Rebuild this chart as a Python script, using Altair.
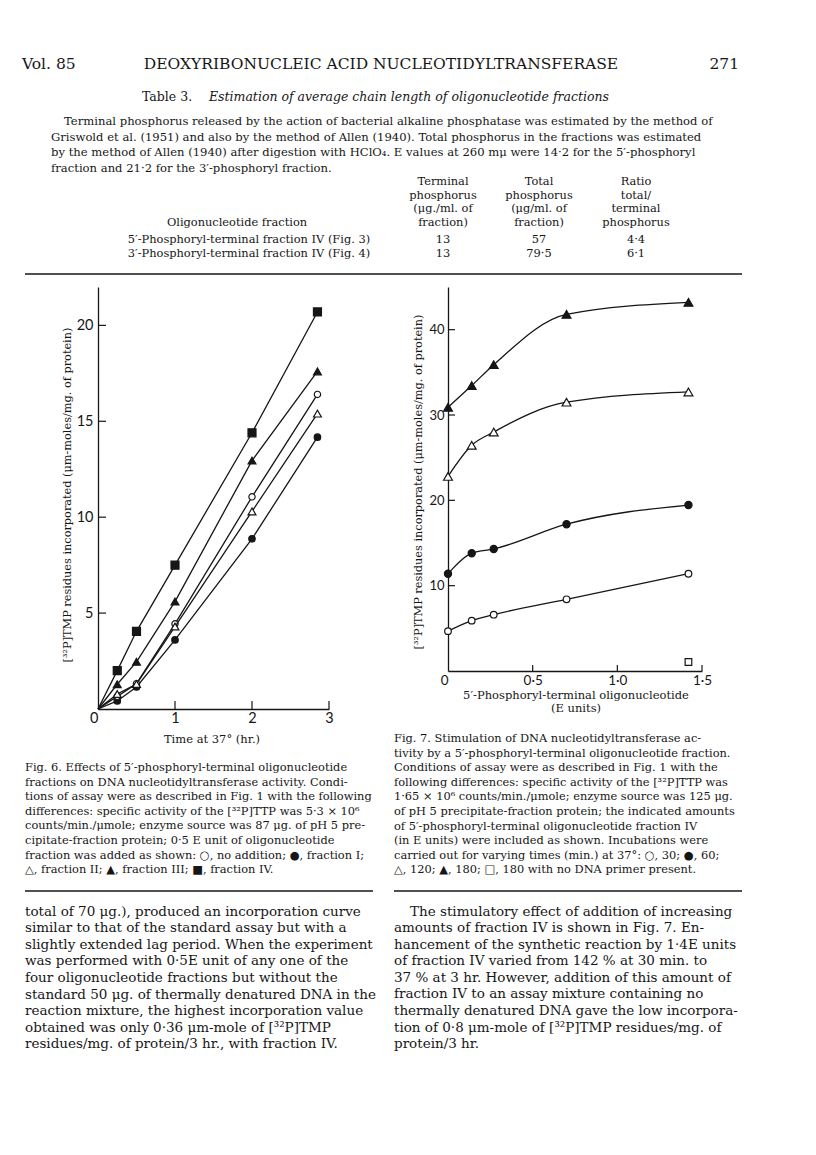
import altair as alt
import pandas as pd

# ---------------- data ----------------
# Fig. 6: time at 37 deg (hr.) vs [32P]TMP incorporated
fig6_time = [0.25, 0.5, 1.0, 2.0, 2.85]
fig6_no_addition = [0.66, 1.32, 4.44, 11.06, 16.4]
fig6_fraction_I = [0.42, 1.15, 3.6, 8.87, 14.17]
fig6_fraction_II = [0.78, 1.30, 4.3, 10.3, 15.4]
fig6_fraction_III = [1.29, 2.46, 5.6, 12.95, 17.6]
fig6_fraction_IV = [2.0, 4.05, 7.5, 14.4, 20.7]
fig6_x_labels = [0, 1, 2, 3]
fig6_x_ticks = [1, 2, 3]
fig6_y_ticks = [5, 10, 15, 20]

# Fig. 7: oligonucleotide (E units) vs [32P]TMP incorporated
fig7_units = [0.0, 0.14, 0.27, 0.70, 1.42]
fig7_30min = [4.67, 5.9, 6.6, 8.4, 11.4]
fig7_60min = [11.4, 13.8, 14.3, 17.2, 19.45]
fig7_120min = [22.8, 26.45, 28.0, 31.5, 32.7]
fig7_180min = [30.9, 33.45, 35.9, 41.8, 43.2]
fig7_noprimer_units = [1.42]
fig7_noprimer = [1.05]
fig7_x_labels = [0, 0.5, 1.0, 1.5]
fig7_x_ticks = [0.5, 1.0, 1.5]
fig7_y_ticks = [10, 20, 30, 40]

# ---------------- page text ----------------
header_left = "Vol. 85"
header_mid = "DEOXYRIBONUCLEIC ACID NUCLEOTIDYLTRANSFERASE"
header_right = "271"
table_label = "Table 3."
table_title = "Estimation of average chain length of oligonucleotide fractions"
para_first = "Terminal phosphorus released by the action of bacterial alkaline phosphatase was estimated by the method of"
para_rest = [
    "Griswold et al. (1951) and also by the method of Allen (1940). Total phosphorus in the fractions was estimated",
    "by the method of Allen (1940) after digestion with HClO\u2084.  E values at 260 m\u03bc were 14\u00b72 for the 5\u2032-phosphoryl",
    "fraction and 21\u00b72 for the 3\u2032-phosphoryl fraction.",
]
col1_head = ["Terminal", "phosphorus", "(\u03bcg./ml. of", "fraction)"]
col2_head = ["Total", "phosphorus", "(\u03bcg/ml. of", "fraction)"]
col3_head = ["Ratio", "total/", "terminal", "phosphorus"]
col0_head = "Oligonucleotide fraction"
row_names = ["5\u2032-Phosphoryl-terminal fraction IV (Fig. 3)",
             "3\u2032-Phosphoryl-terminal fraction IV (Fig. 4)"]
row_terminal = ["13", "13"]
row_total = ["57", "79\u00b75"]
row_ratio = ["4\u00b74", "6\u00b71"]

fig6_ytitle = "[\u00b3\u00b2P]TMP residues incorporated (\u03bcm-moles/mg. of protein)"
fig6_xtitle = "Time at 37\u00b0 (hr.)"
fig7_xtitle = ["5\u2032-Phosphoryl-terminal oligonucleotide", "(E units)"]

fig6_caption = [
    "Fig. 6. Effects of 5\u2032-phosphoryl-terminal oligonucleotide",
    "fractions on DNA nucleotidyltransferase activity. Condi-",
    "tions of assay were as described in Fig. 1 with the following",
    "differences: specific activity of the [\u00b3\u00b2P]TTP was 5\u00b73 \u00d7 10\u2076",
    "counts/min./\u03bcmole; enzyme source was 87 \u03bcg. of pH 5 pre-",
    "cipitate-fraction protein; 0\u00b75 E unit of oligonucleotide",
    "fraction was added as shown: \u25cb, no addition; \u25cf, fraction I;",
    "\u25b3, fraction II; \u25b2, fraction III; \u25a0, fraction IV.",
]
fig7_caption = [
    "Fig. 7. Stimulation of DNA nucleotidyltransferase ac-",
    "tivity by a 5\u2032-phosphoryl-terminal oligonucleotide fraction.",
    "Conditions of assay were as described in Fig. 1 with the",
    "following differences: specific activity of the [\u00b3\u00b2P]TTP was",
    "1\u00b765 \u00d7 10\u2076 counts/min./\u03bcmole; enzyme source was 125 \u03bcg.",
    "of pH 5 precipitate-fraction protein; the indicated amounts",
    "of 5\u2032-phosphoryl-terminal oligonucleotide fraction IV",
    "(in E units) were included as shown. Incubations were",
    "carried out for varying times (min.) at 37\u00b0: \u25cb, 30; \u25cf, 60;",
    "\u25b3, 120; \u25b2, 180; \u25a1, 180 with no DNA primer present.",
]
body_left = [
    "total of 70 \u03bcg.), produced an incorporation curve",
    "similar to that of the standard assay but with a",
    "slightly extended lag period. When the experiment",
    "was performed with 0\u00b75E unit of any one of the",
    "four oligonucleotide fractions but without the",
    "standard 50 \u03bcg. of thermally denatured DNA in the",
    "reaction mixture, the highest incorporation value",
    "obtained was only 0\u00b736 \u03bcm-mole of [\u00b3\u00b2P]TMP",
    "residues/mg. of protein/3 hr., with fraction IV.",
]
body_right_first = "The stimulatory effect of addition of increasing"
body_right_rest = [
    "amounts of fraction IV is shown in Fig. 7. En-",
    "hancement of the synthetic reaction by 1\u00b74E units",
    "of fraction IV varied from 142 % at 30 min. to",
    "37 % at 3 hr. However, addition of this amount of",
    "fraction IV to an assay mixture containing no",
    "thermally denatured DNA gave the low incorpora-",
    "tion of 0\u00b78 \u03bcm-mole of [\u00b3\u00b2P]TMP residues/mg. of",
    "protein/3 hr.",
]

# ---------------- style ----------------
INK = "#161616"
SERIF = "DejaVu Serif"
SANS = "Lato"
W6, H6 = 231, 422
W7, H7 = 254, 384


def txt(lines, x, y, size=11.3, align="left", lh=None, style="normal", angle=0, font=SERIF):
    s = "\n".join(lines) if isinstance(lines, list) else lines
    mk = dict(font=font, fontSize=size, align=align, baseline="alphabetic", color=INK,
              lineBreak="\n", fontStyle=style)
    if lh:
        mk["lineHeight"] = lh
    if angle:
        mk["angle"] = angle
        mk["baseline"] = "middle"
    return alt.Chart(pd.DataFrame({"s": [s]})).mark_text(**mk).encode(
        x=alt.value(x), y=alt.value(y), text="s:N")


def hrule(x1, x2, y, w=1.6):
    return alt.Chart(pd.DataFrame({"s": [0]})).mark_rule(color=INK, strokeWidth=w).encode(
        x=alt.value(x1), x2=alt.value(x2), y=alt.value(y))


def xaxis(values, expr, size):
    return alt.Axis(values=values, ticks=False, grid=False, domainColor=INK, domainWidth=1.3,
                    labelFont=SANS, labelFontSize=size, labelColor=INK, labelPadding=2,
                    labelFlush=False, labelExpr=expr,
                    labelAlign=alt.expr("datum.value == 0 ? 'right' : 'center'"), title=None)


def yaxis(values, size, pad):
    return alt.Axis(values=values, ticks=False, grid=False, domainColor=INK, domainWidth=1.3,
                    labelFont=SANS, labelFontSize=size, labelColor=INK, labelPadding=pad,
                    labelBaseline="middle", title=None)


def series_layers(xs, ys, shape, filled, size, xs_scale, ys_scale, ax_x, ax_y, line_from_origin, interp):
    layers = []
    if line_from_origin is not None:
        lx = ([0.0] + xs) if line_from_origin else xs
        ly = ([0.0] + ys) if line_from_origin else ys
        ldf = pd.DataFrame({"a": lx, "b": ly})
        layers.append(alt.Chart(ldf).mark_line(color=INK, strokeWidth=1.3, interpolate=interp).encode(
            x=alt.X("a:Q", scale=xs_scale, axis=ax_x), y=alt.Y("b:Q", scale=ys_scale, axis=ax_y)))
    pdf = pd.DataFrame({"a": xs, "b": ys})
    layers.append(alt.Chart(pdf).mark_point(shape=shape, filled=True, fill=INK if filled else "white",
                                            stroke=INK, strokeWidth=1.2, size=size, opacity=1).encode(
        x=alt.X("a:Q", scale=xs_scale, axis=ax_x), y=alt.Y("b:Q", scale=ys_scale, axis=ax_y)))
    return layers


# ---------------- Fig. 6 ----------------
x6 = alt.Scale(domain=[0, 3], nice=False, zero=False)
y6 = alt.Scale(domain=[0, 22], nice=False)
ax6x = xaxis(fig6_x_labels, "datum.value == 0 ? '0\u2002' : datum.label", 14.5)
ax6y = yaxis(fig6_y_ticks, 14.5, 5)

fig6_series = [
    (fig6_fraction_I, "circle", True, 42),
    (fig6_no_addition, "circle", False, 40),
    (fig6_fraction_II, "triangle-up", False, 62),
    (fig6_fraction_III, "triangle-up", True, 62),
    (fig6_fraction_IV, "square", True, 64),
]
f6 = []
for vals, shp, fil, sz in fig6_series:
    f6 += series_layers(fig6_time, vals, shp, fil, sz, x6, y6, ax6x, ax6y, True, "linear")

f6.append(alt.Chart(pd.DataFrame({"k": fig6_y_ticks})).mark_rule(color=INK, strokeWidth=1.2).encode(
    y=alt.Y("k:Q", scale=y6, axis=ax6y), x=alt.value(0), x2=alt.value(8)))
f6.append(alt.Chart(pd.DataFrame({"k": fig6_x_ticks})).mark_rule(color=INK, strokeWidth=1.2).encode(
    x=alt.X("k:Q", scale=x6, axis=ax6x), y=alt.value(H6), y2=alt.value(H6 - 8)))

# page anchor (top-left corner of the page area) and left-column text, relative to Fig. 6 plot
f6.append(alt.Chart(pd.DataFrame({"s": [0]})).mark_point(size=1, opacity=0).encode(
    x=alt.value(-89), y=alt.value(-278)))
f6 += [
    txt(header_left, -76, -218, size=15.5),
    txt(header_mid, 283, -218, size=15.5, align="center"),
    txt(header_right, 641, -218, size=15.5, align="right"),
    txt(table_label, 44, -186, size=12.5),
    txt(table_title, 111, -186, size=12.5, style="italic"),
    txt(para_first, -34, -162, size=11.6),
    txt(para_rest, -47, -146.5, size=11.6, lh=15.5),
    txt(col1_head, 345, -102, size=11.4, align="center", lh=13.5),
    txt(col2_head, 441, -102, size=11.4, align="center", lh=13.5),
    txt(col3_head, 538, -102, size=11.4, align="center", lh=13.5),
    txt(col0_head, 139, -61.5, size=11.4, align="center"),
    txt(row_names, 151, -44, size=11.4, align="center", lh=14),
    txt(row_terminal, 345, -44, size=11.4, align="center", lh=14),
    txt(row_total, 441, -44, size=11.4, align="center", lh=14),
    txt(row_ratio, 538, -44, size=11.4, align="center", lh=14),
    hrule(-73, 644, -13),
    txt(fig6_ytitle, -30, 208, size=11.3, align="center", angle=270),
    txt(fig6_xtitle, 114, 456, size=11.5, align="center"),
    txt(fig6_caption, -73, 484, size=11.4, lh=14.6),
    hrule(-73, 275, 604),
    txt(body_left, -73, 628.5, size=13.5, lh=16.6),
]
fig6 = alt.layer(*f6).properties(width=W6, height=H6)

# ---------------- Fig. 7 ----------------
x7 = alt.Scale(domain=[0, 1.5], nice=False, zero=False)
y7 = alt.Scale(domain=[0, 45], nice=False)
ax7x = xaxis(fig7_x_labels,
             "datum.value == 0 ? '0\u2002' : replace(format(datum.value, '.1f'), '.', '\u00b7')", 13.5)
ax7y = yaxis(fig7_y_ticks, 13, 4)

fig7_series = [
    (fig7_30min, "circle", False, 44),
    (fig7_60min, "circle", True, 52),
    (fig7_120min, "triangle-up", False, 78),
    (fig7_180min, "triangle-up", True, 78),
]
f7 = []
for vals, shp, fil, sz in fig7_series:
    f7 += series_layers(fig7_units, vals, shp, fil, sz, x7, y7, ax7x, ax7y, False, "monotone")
f7 += series_layers(fig7_noprimer_units, fig7_noprimer, "square", False, 44, x7, y7, ax7x, ax7y, None, "linear")

f7.append(alt.Chart(pd.DataFrame({"k": fig7_y_ticks})).mark_rule(color=INK, strokeWidth=1.2).encode(
    y=alt.Y("k:Q", scale=y7, axis=ax7y), x=alt.value(0), x2=alt.value(7)))
f7.append(alt.Chart(pd.DataFrame({"k": fig7_x_ticks})).mark_rule(color=INK, strokeWidth=1.2).encode(
    x=alt.X("k:Q", scale=x7, axis=ax7x), y=alt.value(H7), y2=alt.value(H7 - 6)))

f7 += [
    txt(fig6_ytitle, -29, 195, size=11.3, align="center", angle=270),
    txt(fig7_xtitle, 128, 412, size=11.5, align="center", lh=13),
    txt(fig7_caption, -54, 455, size=11.4, lh=14.6),
    hrule(-54, 294, 604),
    txt(body_right_first, -38, 628.5, size=13.5),
    txt(body_right_rest, -54, 645.1, size=13.5, lh=16.6),
]
fig7 = alt.layer(*f7).properties(width=W7, height=H7)

chart = alt.hconcat(fig6, fig7, spacing=119, bounds="flush").properties(
    padding=0, background="white"
).configure_view(stroke=None)

chart.save("out.html", embed_options={"renderer": "svg", "actions": False})
